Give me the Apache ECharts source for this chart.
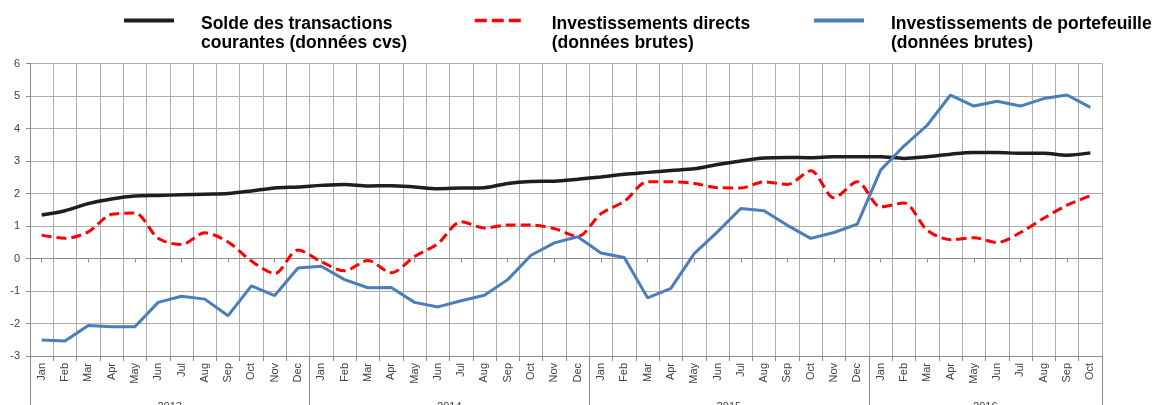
<!DOCTYPE html>
<html>
<head>
<meta charset="utf-8">
<script src="https://cdn.jsdelivr.net/npm/echarts@6/dist/echarts.min.js"></script>
<style>
  html, body { margin: 0; padding: 0; background: #fff; }
  #chart { width: 1154px; height: 405px; }
</style>
</head>
<body>
<div id="chart"></div>
<script>
var monthNames = ['Jan', 'Feb', 'Mar', 'Apr', 'May', 'Jun', 'Jul', 'Aug', 'Sep', 'Oct', 'Nov', 'Dec'];
var years = ['2013', '2014', '2015', '2016'];
var monthsPerYear = [12, 12, 12, 10];

var solde = [1.34, 1.47, 1.69, 1.83, 1.92, 1.94, 1.96, 1.98, 2.00, 2.08, 2.17, 2.20,
    2.25, 2.28, 2.23, 2.24, 2.20, 2.15, 2.17, 2.18, 2.31, 2.37, 2.38, 2.44,
    2.51, 2.59, 2.65, 2.71, 2.76, 2.89, 3.00, 3.09, 3.11, 3.10, 3.13, 3.13,
    3.13, 3.08, 3.13, 3.21, 3.26, 3.26, 3.24, 3.24, 3.18, 3.25];
var directs = [0.72, 0.62, 0.82, 1.36, 1.40, 0.62, 0.43, 0.79, 0.51, -0.08, -0.46, 0.26,
    -0.10, -0.38, -0.06, -0.44, 0.06, 0.46, 1.13, 0.94, 1.03, 1.03, 0.92, 0.68,
    1.38, 1.76, 2.36, 2.36, 2.31, 2.18, 2.17, 2.36, 2.28, 2.70, 1.87, 2.36,
    1.59, 1.71, 0.87, 0.58, 0.64, 0.49, 0.80, 1.24, 1.64, 1.93];
var portefeuille = [-2.51, -2.54, -2.06, -2.10, -2.10, -1.35, -1.16, -1.25, -1.76, -0.84, -1.14, -0.29,
    -0.24, -0.65, -0.90, -0.89, -1.35, -1.49, -1.30, -1.13, -0.65, 0.10, 0.48, 0.67,
    0.17, 0.03, -1.21, -0.92, 0.15, 0.82, 1.54, 1.47, 1.02, 0.62, 0.80, 1.06,
    2.72, 3.46, 4.10, 5.03, 4.69, 4.84, 4.69, 4.92, 5.03, 4.65];

var seriesNames = ['Solde des transactions\ncourantes (données cvs)',
    'Investissements directs\n(données brutes)',
    'Investissements de portefeuille\n(données brutes)'];

// categories : one per month, plus where each year starts / is centred
var months = [];
var yearStart = [];
var yearLabelAt = {};
monthsPerYear.forEach(function (n, y) {
    yearStart.push(months.length);
    yearLabelAt[months.length + Math.floor((n - 1) / 2)] = years[y];
    for (var m = 0; m < n; m++) months.push(monthNames[m]);
});

var gridColor = '#adadad';
var axisColor = '#8c8c8c';
var labelColor = '#404040';
var font = 'Liberation Sans';

var myChart = echarts.init(document.getElementById('chart'));

// one legend per item so each can sit where it is in the picture;
// an empty first row pushes the label down so its first line meets the icon
function legendAt(left, name, lineStyle) {
    return {
        data: [name],
        left: left,
        top: -3.5,
        padding: 0,
        itemWidth: 50,
        itemHeight: 14,
        selectedMode: false,
        itemStyle: { opacity: 0 },
        lineStyle: lineStyle,
        formatter: function (n) {
            return '{gap| }\n' + n.split('\n').map(function (s) {
                return '{t|' + s + '}';
            }).join('\n');
        },
        textStyle: {
            padding: [0, 0, 0, 22],
            rich: {
                gap: { fontSize: 10, lineHeight: 27 },
                t: {
                    fontFamily: font,
                    fontSize: 17.5,
                    fontWeight: 'bold',
                    color: '#000',
                    lineHeight: 19
                }
            }
        }
    };
}

var option = {
    animation: false,
    legend: [
        legendAt(122, seriesNames[0], { color: '#1e1e1e', width: 4, opacity: 1 }),
        legendAt(473, seriesNames[1], { color: '#ff0000', width: 3.5, type: [12, 5], opacity: 1 }),
        legendAt(812, seriesNames[2], { color: '#4a7ebb', width: 4, opacity: 1 })
    ],
    grid: {
        left: 30,
        right: 52,
        top: 63.5,
        bottom: 49,
        containLabel: false,
        outerBoundsMode: 'none'
    },
    xAxis: [
        {
            type: 'category',
            data: months,
            position: 'bottom',
            axisLine: { onZero: false, lineStyle: { color: axisColor, width: 1 } },
            axisTick: { show: true, length: 5, lineStyle: { color: axisColor } },
            splitLine: { show: true, interval: 0, lineStyle: { color: gridColor, width: 1 } },
            axisLabel: {
                interval: 0,
                rotate: 90,
                margin: 7,
                fontFamily: font,
                fontSize: 11,
                color: labelColor
            }
        },
        {
            // years under the months
            type: 'category',
            data: months,
            position: 'bottom',
            axisLine: { show: false, onZero: false },
            axisTick: {
                show: true,
                length: 50,
                interval: function (i) { return yearStart.indexOf(i) >= 0; },
                lineStyle: { color: axisColor }
            },
            splitLine: { show: false },
            axisLabel: {
                interval: function (i) { return yearLabelAt[i] !== undefined; },
                formatter: function (v, i) { return yearLabelAt[i] || ''; },
                margin: 45,
                padding: [0, 0, 0, 23],
                fontFamily: font,
                fontSize: 11,
                color: labelColor
            }
        },
        {
            // axis line on zero with small ticks
            type: 'category',
            data: months,
            position: 'bottom',
            axisLine: { show: true, onZero: true, lineStyle: { color: axisColor, width: 1 } },
            axisTick: { show: true, alignWithLabel: true, length: 4, lineStyle: { color: axisColor } },
            axisLabel: { show: false },
            splitLine: { show: false }
        }
    ],
    yAxis: {
        type: 'value',
        min: -3,
        max: 6,
        interval: 1,
        axisLine: { show: true, lineStyle: { color: axisColor } },
        axisTick: { show: true, length: 4, lineStyle: { color: axisColor } },
        splitLine: { show: true, lineStyle: { color: gridColor, width: 1 } },
        axisLabel: {
            margin: 10,
            fontFamily: font,
            fontSize: 11,
            color: labelColor
        }
    },
    series: [
        {
            name: seriesNames[0],
            type: 'line',
            data: solde,
            symbol: 'none',
            smooth: 0.3,
            lineStyle: { color: '#1e1e1e', width: 3.5 },
            itemStyle: { color: '#1e1e1e' }
        },
        {
            name: seriesNames[1],
            type: 'line',
            data: directs,
            symbol: 'none',
            smooth: 0.3,
            lineStyle: { color: '#ff0000', width: 3, type: [10, 5] },
            itemStyle: { color: '#ff0000' }
        },
        {
            name: seriesNames[2],
            type: 'line',
            data: portefeuille,
            symbol: 'none',
            lineStyle: { color: '#4a7ebb', width: 3 },
            itemStyle: { color: '#4a7ebb' }
        }
    ]
};

myChart.setOption(option);
</script>
</body>
</html>
